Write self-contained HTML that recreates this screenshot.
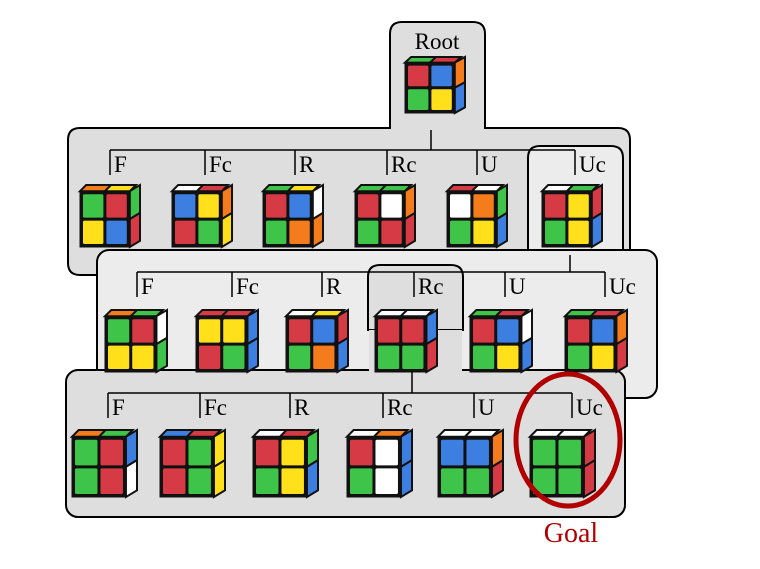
<!DOCTYPE html>
<html><head><meta charset="utf-8"><style>
html,body{margin:0;padding:0;background:#fff;}
svg{display:block;font-family:"Liberation Serif",serif;}
</style></head><body>
<svg id="s" width="760" height="569" viewBox="0 0 760 569">
  <path d="M68,140 Q68,128 80,128 L390,128 L390,34 Q390,22 402,22 L473,22 Q485,22 485,34 L485,128 L618,128 Q630,128 630,140 L630,262 L97,262 L97,275 L80,275 Q68,275 68,263 Z" fill="#dedede" stroke="#000" stroke-width="2"/>
  <path d="M528,250 L528,158 Q528,146 540,146 L611,146 Q623,146 623,158 L623,255" fill="#ececec" stroke="#000" stroke-width="2"/>
  <rect x="97" y="250" width="560" height="148" rx="12" fill="#ececec" stroke="#000" stroke-width="2"/>
  <path d="M368,330 L368,277 Q368,265 380,265 L451,265 Q463,265 463,277 L463,330 Z" fill="#dedede" stroke="#000" stroke-width="2"/>
  <rect x="66" y="370" width="559" height="147" rx="12" fill="#dedede" stroke="#000" stroke-width="2"/>
  <rect x="369" y="330" width="93" height="41" fill="#dedede"/>
  <g id="g"></g>
  <text x="437" y="49" font-size="23" text-anchor="middle">Root</text>
  <ellipse cx="568" cy="440" rx="52" ry="66" fill="none" stroke="#b00000" stroke-width="5"/>
  <text x="571" y="542" font-size="28" fill="#b00000" text-anchor="middle">Goal</text>
</svg>
<script>
const C={R:'#d63a45',B:'#3d7fe0',G:'#3fc44a',Y:'#ffe01a',O:'#f57c1c',W:'#ffffff'};
const labels=['F','Fc','R','Rc','U','Uc'];
const levelY=[150,272,393];
const levelTicks=[[110,205,295,387,477,575],[137,232,322,414,505,605],[108,200,290,383,474,572]];
const stems=[[431,130],[570,255],[412,372]];
const cubeX=[[80,172,263,355,447,542],[105,196,286,375,470,565],[72,160,253,347,438,530]];
const cubeY=[185,310,430];
const cubeSize=[[60,62],[62,62],[65,67]];
const rootCube=['RBGY','GR','OB'];
const cubes=[
 [['GRYB','OY','GR'],['BYRG','WR','OY'],['RBGO','GY','WO'],['RWGR','GG','OR'],['WOGY','RW','GB'],['RYGY','WG','RB']],
 [['GRYY','OG','WG'],['YYRG','RR','BB'],['RBGO','WY','RB'],['RRGG','WW','BR'],['RBGY','GR','WB'],['RBGY','GR','OR']],
 [['GRGR','OG','BW'],['RGRG','BR','YY'],['RYGY','WR','GB'],['RWGW','WO','BB'],['BBGG','WW','OR'],['GGGG','WW','RR']]
];
const NS='http://www.w3.org/2000/svg';
const g=document.getElementById('g');
function mk(t,a,p){const e=document.createElementNS(NS,t);for(const k in a)e.setAttribute(k,a[k]);(p||g).appendChild(e);return e;}
function cube(x,y,w,h,d,name){
  const grp=mk('g',{});
  
  
  const th=h*0.1, fw=w*0.83, fh=h-th, sw=w-fw;
  const fx=x, fy=y+th;
  for(let i=0;i<2;i++){
    const x0=fx+i*fw/2, x1=fx+(i+1)*fw/2;
    mk('polygon',{points:`${x0},${fy} ${x1},${fy} ${x1+sw*0.6},${y} ${x0+sw*0.6},${y}`,fill:C[d[1][i]],stroke:'#111','stroke-width':2},grp);
  }
  for(let i=0;i<2;i++){
    const y0=fy+i*fh/2, y1=fy+(i+1)*fh/2;
    mk('polygon',{points:`${fx+fw},${y0} ${fx+w},${y0-th} ${fx+w},${y1-th} ${fx+fw},${y1}`,fill:C[d[2][i]],stroke:'#111','stroke-width':2},grp);
  }
  mk('rect',{x:fx-0.5,y:fy-0.5,width:fw+1,height:fh+1,fill:'#111'},grp);
  const gap=3, cw=(fw-gap*3)/2, ch=(fh-gap*3)/2;
  for(let r=0;r<2;r++)for(let c=0;c<2;c++){
    mk('rect',{x:fx+gap+c*(cw+gap),y:fy+gap+r*(ch+gap),width:cw,height:ch,fill:C[d[0][r*2+c]],rx:1.5},grp);
  }
}
cube(405,57,60,56,rootCube,'root-cube');
for(let L=0;L<3;L++){
  const ly=levelY[L], t=levelTicks[L];
  const st=mk('line',{x1:stems[L][0],y1:stems[L][1],x2:stems[L][0],y2:ly,stroke:'#000','stroke-width':1.5});
  
  
  const hl=mk('line',{x1:t[0],y1:ly,x2:t[5],y2:ly,stroke:'#000','stroke-width':1.5});
  
  
  for(let i=0;i<6;i++){
    const tk=mk('line',{x1:t[i],y1:ly,x2:t[i],y2:ly+25,stroke:'#000','stroke-width':1.5});
    
    
    const tx=mk('text',{x:t[i]+4,y:ly+22,'font-size':23});
    tx.textContent=labels[i];
    
    
    cube(cubeX[L][i],cubeY[L],cubeSize[L][0],cubeSize[L][1],cubes[L][i],'cube-l'+(L+1)+'-'+labels[i].toLowerCase());
  }
}
</script>
</body></html>
